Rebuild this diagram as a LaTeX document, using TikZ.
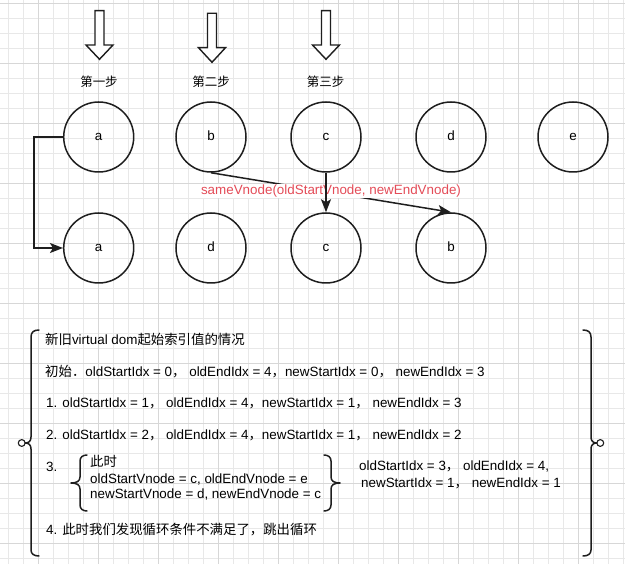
\documentclass[tikz,border=0pt]{standalone}
\usepackage{fontspec}
\setmainfont{Liberation Sans}
\newfontfamily\cjk{Noto Sans CJK SC}
\newcommand{\zh}[1]{{\cjk #1}}
\usetikzlibrary{arrows.meta}
\definecolor{gridminor}{RGB}{232,232,232}
\definecolor{gridmajor}{RGB}{215,215,215}
\definecolor{ink}{RGB}{30,30,30}
\definecolor{labelred}{RGB}{228,76,88}
\begin{document}
\begin{tikzpicture}[x=1pt,y=-1pt,
  body/.style={font=\fontsize{13.4}{16}\selectfont},
  vcircle/.style={circle,draw=ink,line width=1.5pt,minimum size=70pt,inner sep=0pt,body,text height=7pt,text depth=0pt},
  conn/.style={draw=ink,line width=1.5pt,-{Stealth[length=13pt,width=10pt,inset=3pt]}},
  txt/.style={anchor=base west,inner sep=0pt,body},
  steplabel/.style={inner sep=0pt,font=\cjk\fontsize{12.5}{15}\selectfont},
  redlabel/.style={fill=white,inner sep=0.8pt,text=labelred,body},
  bracepath/.style={draw=ink,line width=1.5pt,line cap=round,line join=round},
  hollow/.style={draw=ink,line width=1.4pt,fill=white,line join=miter}]
\useasboundingbox (0,0) rectangle (625,564);
\fill[white] (0,0) rectangle (625,564);
% grid
\foreach \i in {0,...,41} \draw[gridminor,line width=0.6pt] ({8+15*\i},0) -- ({8+15*\i},564);
\foreach \i in {0,...,37} \draw[gridminor,line width=0.6pt] (0,{3.3+15*\i}) -- (625,{3.3+15*\i});
\foreach \i in {0,...,9} \draw[gridmajor,line width=0.6pt] ({38+60*\i},0) -- ({38+60*\i},564);
\foreach \i in {0,...,9} \draw[gridmajor,line width=0.6pt] (0,{3.3+60*\i}) -- (625,{3.3+60*\i});
% hollow arrows
\foreach \x/\t/\b/\p in {99.5/10.7/45/59.3, 212/13.3/47.7/62.3, 326/10.7/45/59.3}
  \draw[hollow] (\x-4.5,\t) -- (\x+4.5,\t) -- (\x+4.5,\b) -- (\x+13.5,\b) -- (\x,\p) -- (\x-13.5,\b) -- (\x-4.5,\b) -- cycle;
\node[steplabel] (l1) at (99,81.7) {第一步};
\node[steplabel] (l2) at (211,81.7) {第二步};
\node[steplabel] (l3) at (325.6,81.7) {第三步};
% circles
\node[vcircle] (a1) at (98.7,137) {a};
\node[vcircle] (b1) at (211,137) {b};
\node[vcircle] (c1) at (326,137) {c};
\node[vcircle] (d1) at (451,137) {d};
\node[vcircle] (e1) at (573,137) {e};
\node[vcircle] (a2) at (98.7,248) {a};
\node[vcircle] (d2) at (211,248) {d};
\node[vcircle] (c2) at (326,248) {c};
\node[vcircle] (b2) at (451,248) {b};
% connectors
\coordinate (ajog) at (33.9,137);
\draw[conn] (a1.west) -- (ajog) |- (a2.west);
\draw[conn] (b1.south) -- node[redlabel,yshift=1.5pt] (lab) {sameVnode(oldStartVnode, newEndVnode)} (b2.north);
\draw[conn] (c1.south) -- (c2.north);
% big braces
\draw[bracepath] (39,330) .. controls (34,330) and (31,332) .. (31,337) -- (31,437) .. controls (31,441) and (29,443) .. (25.2,443) .. controls (29,443) and (31,445) .. (31,449) -- (31,550) .. controls (31,554) and (34,556) .. (39,556);
\draw[bracepath] (583,330) .. controls (588,330) and (591,332) .. (591,337) -- (591,437) .. controls (591,441) and (593,443) .. (596.8,443) .. controls (593,443) and (591,445) .. (591,449) -- (591,550) .. controls (591,554) and (588,556) .. (583,556);
\draw[ink,line width=1.1pt,fill=white] (21.7,443) circle (3.4);
\draw[ink,line width=1.1pt,fill=white] (600.3,443) circle (3.4);
% inner braces
\draw[bracepath] (87,455) .. controls (83,455) and (80,457) .. (80,461) -- (80,477) .. controls (80,481) and (77,483) .. (71,483) .. controls (77,483) and (80,485) .. (80,489) -- (80,505) .. controls (80,509) and (83,511) .. (87,511);
\draw[bracepath] (324,455) .. controls (328,455) and (331,457) .. (331,461) -- (331,477) .. controls (331,481) and (334,483) .. (340,483) .. controls (334,483) and (331,485) .. (331,489) -- (331,505) .. controls (331,509) and (328,511) .. (324,511);
% texts
\node[txt] (t0) at (45,344.8) {\zh{新旧}virtual dom\zh{起始索引值的情况}};
\node[txt] (t1) at (45,376.8) {\zh{初始．}oldStartIdx = 0\zh{，} oldEndIdx = 4\zh{，}newStartIdx = 0\zh{，} newEndIdx = 3};
\node[txt] (t2) at (46,407.8) {1. oldStartIdx = 1\zh{，} oldEndIdx = 4\zh{，}newStartIdx = 1\zh{，} newEndIdx = 3};
\node[txt] (t3) at (46,439.8) {2. oldStartIdx = 2\zh{，} oldEndIdx = 4\zh{，}newStartIdx = 1\zh{，} newEndIdx = 2};
\node[txt] (t4) at (46,471.8) {3.};
\node[txt] (s0) at (90,466.8) {\zh{此时}};
\node[txt] (s1) at (90,483.8) {oldStartVnode = c, oldEndVnode = e};
\node[txt] (s2) at (90,498.8) {newStartVnode = d, newEndVnode = c};
\node[txt] (r1) at (359,470.8) {oldStartIdx = 3\zh{，} oldEndIdx = 4,};
\node[txt] (r2) at (361,487.8) {newStartIdx = 1\zh{，} newEndIdx = 1};
\node[txt] (t5) at (46,534.8) {4. \zh{此时我们发现循环条件不满足了，跳出循环}};
\end{tikzpicture}
\end{document}
